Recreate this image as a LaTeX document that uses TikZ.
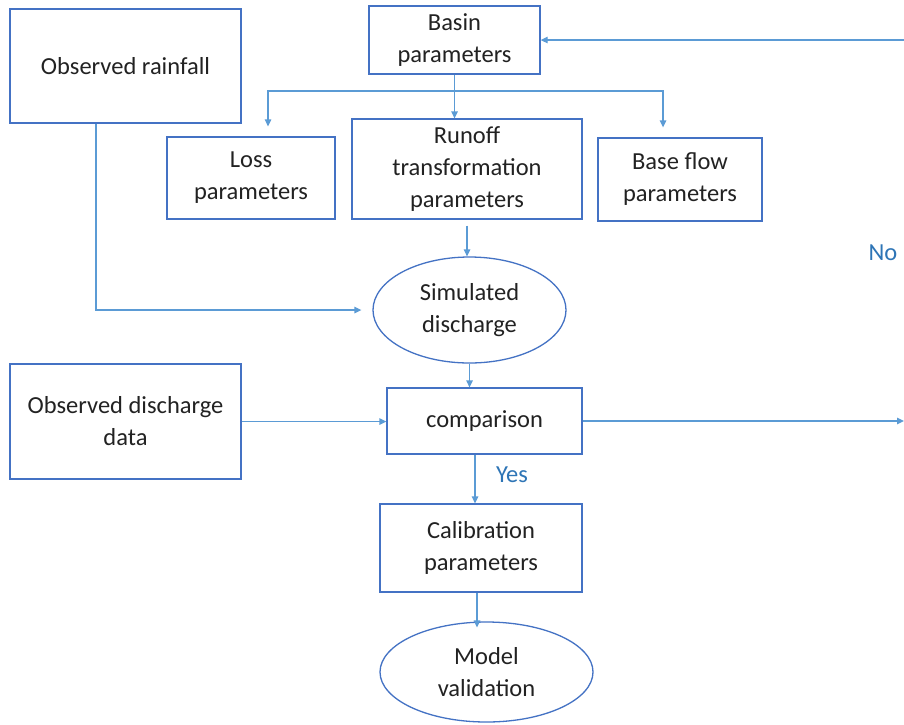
\documentclass[tikz,border=0pt]{standalone}
\usepackage{fontspec}
\setmainfont{Carlito}
\usetikzlibrary{shapes.geometric,arrows.meta}
\definecolor{boxblue}{HTML}{4472C4}
\definecolor{lineblue}{HTML}{5B9BD5}
\definecolor{labelblue}{HTML}{2E75B6}
\definecolor{txt}{HTML}{222222}
\begin{document}
\begin{tikzpicture}[x=1pt,y=-1pt,
  box/.style={draw=boxblue, line width=1.3pt, rectangle, inner sep=0pt, align=center, text=txt, font=\fontsize{24.5}{32}\selectfont},
  oval/.style={box, ellipse},
  conn/.style={draw=lineblue, line width=1.3pt, -{Triangle[length=7pt,width=6.5pt]}},
  lab/.style={text=labelblue, font=\fontsize{24.5}{32}\selectfont, inner sep=0pt}]
\useasboundingbox (0,0) rectangle (904,724);
\fill[white] (0,0) rectangle (904,724);
% nodes
\node[box, minimum width=231pt, minimum height=114pt] (rain) at (125.5,66) {Observed rainfall};
\node[box, minimum width=171pt, minimum height=68pt] (basin) at (454.5,40) {Basin\\parameters};
\node[box, minimum width=168pt, minimum height=82pt] (loss) at (251,178) {Loss\\parameters};
\node[box, minimum width=230pt, minimum height=100pt] (runoff) at (467,169) {Runoff\\transformation\\parameters};
\node[box, minimum width=164pt, minimum height=83pt] (base) at (680,179.5) {Base flow\\parameters};
\node[oval, minimum width=193pt, minimum height=106pt] (sim) at (469.5,310) {Simulated\\discharge};
\node[box, minimum width=231pt, minimum height=115pt] (obsd) at (125.5,421.5) {Observed discharge\\data};
\node[box, minimum width=195pt, minimum height=66pt] (comp) at (484.5,421) {comparison};
\node[box, minimum width=202pt, minimum height=88pt] (calib) at (481,548) {Calibration\\parameters};
\node[oval, minimum width=213pt, minimum height=100pt] (model) at (486.5,672) {Model\\validation};
\node[lab] (no) at (883,253) {No};
\node[lab] (yes) at (512,475) {Yes};
\coordinate (edgeTop) at (904,40);
\coordinate (edgeMid) at (904,421);
\coordinate (split) at (basin.south |- 0,91);
% connectors
\draw[conn] (edgeTop) -- (basin.east);
\draw[conn] (basin.south) -- (basin.south |- runoff.north);
\draw[conn, shorten >=10pt] (split) -| ([xshift=17pt]loss.north);
\draw[conn, shorten >=10pt] (split) -| ([xshift=-17pt]base.north);
\draw[conn, shorten <=6pt] (runoff.south) -- (runoff.south |- sim.north);
\draw[conn, shorten >=11pt] ([xshift=-29.5pt]rain.south) |- (sim.west);
\draw[conn] (sim.south) -- (sim.south |- comp.north);
\draw[conn] (obsd.east) -- (obsd.east -| comp.west);
\draw[conn] (comp.east) -- (edgeMid);
\draw[conn] ([xshift=-9.5pt]comp.south) -- ([xshift=-9.5pt]comp.south |- calib.north);
\draw[conn] ([xshift=-4pt]calib.south) -- ([xshift=-4pt,yshift=-6pt]calib.south |- model.north);
\end{tikzpicture}
\end{document}
